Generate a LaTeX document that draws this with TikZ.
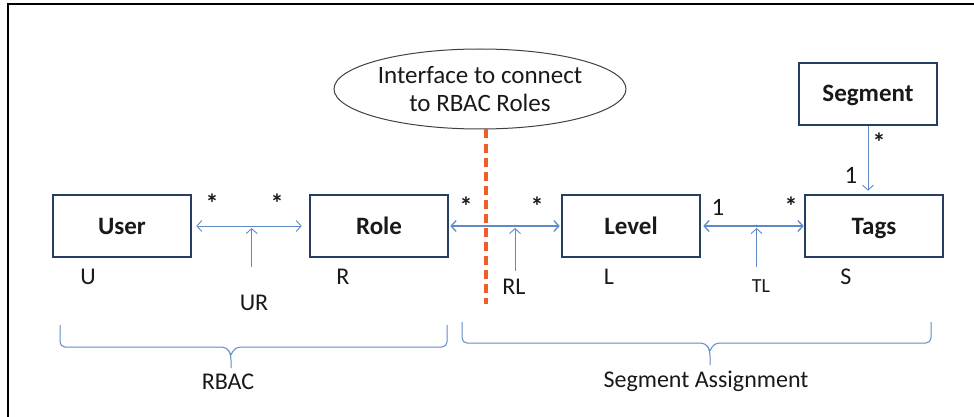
\documentclass[tikz,border=0pt]{standalone}
\usepackage{fontspec}
\setmainfont{Carlito}
\usetikzlibrary{arrows.meta,shapes.geometric,calc}
\definecolor{boxblue}{RGB}{37,62,98}
\definecolor{linkblue}{RGB}{95,138,200}
\definecolor{cutorange}{RGB}{242,92,38}
\definecolor{inkgray}{RGB}{25,25,25}

\begin{document}
\begin{tikzpicture}[x=1pt,y=-1pt,font=\fontsize{24}{28}\selectfont,text=inkgray,
  entity/.style={draw=boxblue,line width=2.6pt,minimum width=138pt,minimum height=62pt,inner sep=0pt,
    font=\fontsize{25}{28}\selectfont\bfseries,text height=16pt,text depth=0pt},
  iface/.style={ellipse,draw=black!75,line width=1pt,minimum width=292pt,minimum height=80pt,
    inner sep=0pt,align=center,font=\fontsize{25}{28}\selectfont},
  link/.style={draw=linkblue,line width=0.9pt},
  tip/.style={-{Straight Barb[length=5pt,width=11pt]}},
  tips/.style={{Straight Barb[length=5pt,width=11pt]}-{Straight Barb[length=5pt,width=11pt]}},
  cut/.style={draw=cutorange,line width=3.2pt,dash pattern=on 9pt off 5pt},
  brace/.style={draw=linkblue,line width=1pt,rounded corners=5pt},
  mult/.style={font=\fontsize{26}{28}\selectfont\bfseries,inner sep=0pt}]

\useasboundingbox (0,0) rectangle (974,417);
\draw[black,line width=1.6pt] (974,4) -- (8,4) -- (8,417);

\node[entity] (user) at (122,226) {User};
\node[entity] (role) at (379,226) {Role};
\node[entity] (level) at (631,226) {Level};
\node[entity] (tags) at (874,226) {Tags};
\node[entity] (segment) at (868,94) {Segment};

\node[iface] (iface) at (480,89) {Interface to connect\\ to RBAC Roles};
\coordinate (cutend) at (486,304);
\draw[cut] (iface.south -| cutend) -- (cutend);

% associations
\draw[link,tips,shorten <=4pt,shorten >=7pt] (user) -- coordinate[pos=0.51] (ur) (role);
\draw[link,tips,line width=1.3pt,shorten <=1pt,shorten >=1pt] (role) -- coordinate[pos=0.59] (rl) (level);
\draw[link,tips,line width=1.3pt,shorten <=2pt] (level) -- coordinate[pos=0.54] (tl) (tags);
\draw[link,tip,shorten >=3pt] (segment.south) -- (segment.south |- tags.north);

\coordinate (urfoot) at ($(ur)+(0,41)$);
\coordinate (rlfoot) at ($(rl)+(0,45)$);
\coordinate (tlfoot) at ($(tl)+(0,41)$);
\draw[link,tip,shorten >=2pt] (urfoot) -- (ur);
\draw[link,tip,shorten >=2pt] (rlfoot) -- (rl);
\draw[link,tip,shorten >=2pt] (tlfoot) -- (tl);
\fill[linkblue] (rl) circle (1.4pt);
\fill[linkblue] (tl) circle (1.4pt);

\node[mult] (m1) at (212,203) {*};
\node[mult] (m2) at (277,203) {*};
\node[mult] (m3) at (466,206) {*};
\node[mult] (m4) at (537,206) {*};
\node[mult,font=\fontsize{25}{28}\selectfont] (m5) at (718,207) {1};
\node[mult] (m6) at (791,206) {*};
\node[mult] (m7) at (879,142) {*};
\node[mult,font=\fontsize{25}{28}\selectfont] (m8) at (851,175) {1};

\node (ulab) at (88,277) {U};
\node (rlab) at (343,277) {R};
\node (urlab) at (254,303) {UR};
\node (rllab) at (514,287) {RL};
\node (llab) at (609,277) {L};
\node[font=\fontsize{20}{24}\selectfont] (tllab) at (761,286) {TL};
\node (slab) at (846,277) {S};

% braces
\draw[brace] (60,325) -- (60,347) -- (227,347) -- (231,355) -- (231,368);
\draw[brace] (231,355) -- (235,347) -- (447,347) -- (447,325);
\node[anchor=north] (rbac) at (228,370) {RBAC};
\draw[brace] (462,322) -- (462,343) -- (706,343) -- (710,351) -- (710,365);
\draw[brace] (710,351) -- (714,343) -- (931,343) -- (931,322);
\node[anchor=north] (segassign) at (706,367) {Segment Assignment};

\end{tikzpicture}
\end{document}
